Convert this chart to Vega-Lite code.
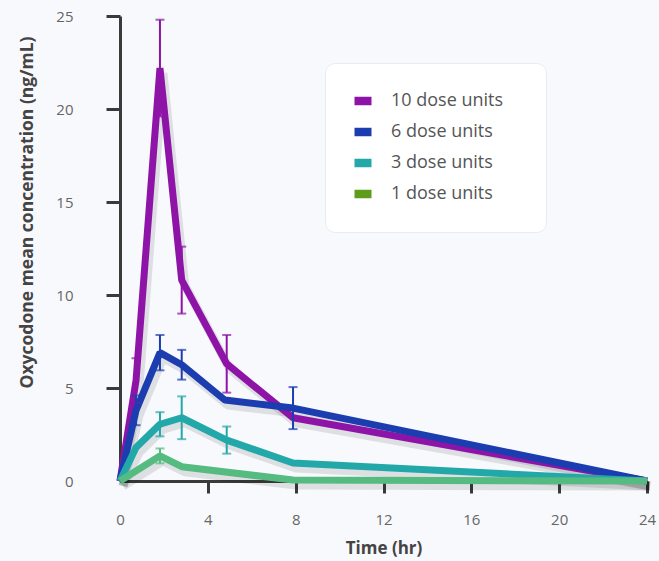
{
  "$schema": "https://vega.github.io/schema/vega-lite/v6.json",
  "width": 527,
  "height": 465,
  "autosize": "none",
  "padding": {"left": 120, "top": 16, "right": 12, "bottom": 80},
  "background": "#f8f9fd",
  "config": {"view": {"stroke": null}, "font": "Open Sans"},
  "data": {
    "values": [
      {"dose": "10 dose units", "t": 0, "c": 0},
      {"dose": "10 dose units", "t": 0.73, "c": 5.4, "err": 1.2},
      {"dose": "10 dose units", "t": 1.82, "c": 22.2, "err": 2.6},
      {"dose": "10 dose units", "t": 2.81, "c": 10.8, "err": 1.8},
      {"dose": "10 dose units", "t": 4.86, "c": 6.3, "err": 1.55},
      {"dose": "10 dose units", "t": 7.88, "c": 3.4},
      {"dose": "10 dose units", "t": 24, "c": 0},
      {"dose": "6 dose units", "t": 0, "c": 0},
      {"dose": "6 dose units", "t": 0.73, "c": 3.8, "err": 0.8},
      {"dose": "6 dose units", "t": 1.82, "c": 6.9, "err": 0.95},
      {"dose": "6 dose units", "t": 2.81, "c": 6.25, "err": 0.8},
      {"dose": "6 dose units", "t": 4.78, "c": 4.35},
      {"dose": "6 dose units", "t": 7.88, "c": 3.92, "err": 1.13},
      {"dose": "6 dose units", "t": 24, "c": 0},
      {"dose": "3 dose units", "t": 0, "c": 0},
      {"dose": "3 dose units", "t": 0.73, "c": 1.8},
      {"dose": "3 dose units", "t": 1.82, "c": 3.05, "err": 0.65},
      {"dose": "3 dose units", "t": 2.81, "c": 3.4, "err": 1.15},
      {"dose": "3 dose units", "t": 4.86, "c": 2.2, "err": 0.73},
      {"dose": "3 dose units", "t": 7.88, "c": 0.97},
      {"dose": "3 dose units", "t": 24, "c": 0},
      {"dose": "1 dose units", "t": 0, "c": 0},
      {"dose": "1 dose units", "t": 1.82, "c": 1.35, "err": 0.4},
      {"dose": "1 dose units", "t": 2.81, "c": 0.77},
      {"dose": "1 dose units", "t": 7.88, "c": 0.05},
      {"dose": "1 dose units", "t": 24, "c": 0}
    ]
  },
  "encoding": {
    "x": {
      "field": "t",
      "type": "quantitative",
      "scale": {"domain": [0, 24], "nice": false, "zero": false},
      "axis": {
        "values": [0, 4, 8, 12, 16, 20, 24],
        "title": "Time (hr)",
        "grid": false,
        "domainColor": "#3a3a3a",
        "domainWidth": 3,
        "tickColor": {"condition": {"test": "datum.value === 0", "value": "transparent"}, "value": "#3a3a3a"},
        "tickWidth": 3,
        "tickSize": 12,
        "labelFontSize": 15,
        "labelColor": "#666666",
        "labelPadding": 19,
        "labelFlush": false,
        "titleFontSize": 17,
        "titleFontWeight": "bold",
        "titleColor": "#444444",
        "titlePadding": 13
      }
    },
    "y": {
      "field": "c",
      "type": "quantitative",
      "scale": {"domain": [0, 25], "nice": false},
      "axis": {
        "values": [0, 5, 10, 15, 20, 25],
        "title": "Oxycodone mean concentration (ng/mL)",
        "grid": false,
        "domainColor": "#3a3a3a",
        "domainWidth": 3,
        "tickColor": {"condition": {"test": "datum.value === 0", "value": "transparent"}, "value": "#3a3a3a"},
        "tickWidth": 3,
        "tickSize": 14,
        "labelFontSize": 15,
        "labelColor": "#666666",
        "labelPadding": 33,
        "labelFlush": false,
        "titleFontSize": 17.5,
        "titleFontWeight": "bold",
        "titleColor": "#444444",
        "titleX": -84,
        "titleY": 196
      }
    }
  },
  "layer": [
    {
      "mark": {"type": "line", "strokeWidth": 9, "color": "#000000", "opacity": 0.1, "xOffset": 3, "yOffset": 5, "strokeJoin": "bevel"},
      "encoding": {"detail": {"field": "dose"}}
    },
    {
      "mark": {"type": "line", "strokeWidth": 7, "strokeJoin": "bevel", "strokeCap": "butt"},
      "encoding": {
        "color": {
          "field": "dose",
          "type": "nominal",
          "scale": {
            "range": ["#55bb80", "#8e14a7", "#22a8a8", "#1b3db0"]
          },
          "legend": null
        }
      }
    },
    {
      "transform": [{"filter": "datum.err != null"}],
      "mark": {"type": "errorbar", "ticks": {"size": 9, "thickness": 2}, "thickness": 2},
      "encoding": {
        "x": {"field": "t", "type": "quantitative"},
        "y": {"field": "c", "type": "quantitative", "title": "Oxycodone mean concentration (ng/mL)"},
        "yError": {"field": "err"},
        "color": {"field": "dose", "type": "nominal", "legend": null}
      }
    },
    {
      "mark": {"type": "point", "filled": true, "opacity": 0},
      "encoding": {
        "fill": {
          "field": "dose",
          "type": "nominal",
          "scale": {
            "domain": ["10 dose units", "6 dose units", "3 dose units", "1 dose units"],
            "range": ["#8e14a7", "#1b3db0", "#22a8a8", "#5e9c1c"]
          },
          "legend": {
            "orient": "none",
            "legendX": 205,
            "legendY": 47,
            "title": null,
            "padding": 29,
            "fillColor": "#ffffff",
            "cornerRadius": 10,
            "strokeColor": "#e8ebf5",
            "symbolType": "M-1,-0.5H1V0.5H-1Z",
            "symbolSize": 289,
            "symbolStrokeWidth": 0,
            "symbolOpacity": 1,
            "labelFontSize": 18,
            "labelColor": "#555555",
            "labelOffset": 19,
            "rowPadding": 13,
            "labelExpr": "datum.label + '\u2800'"
          }
        }
      }
    }
  ]
}
